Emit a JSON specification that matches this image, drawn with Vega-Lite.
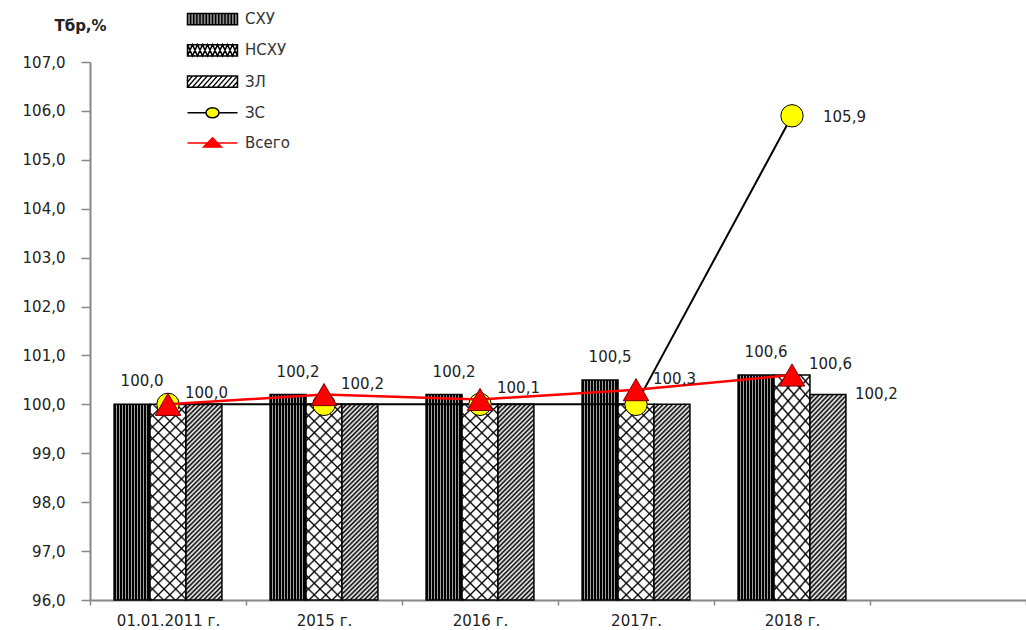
{
  "$schema": "https://vega.github.io/schema/vega-lite/v6.json",
  "width": 936,
  "height": 538,
  "autosize": {"type": "none"},
  "padding": {"left": 90, "top": 62, "right": 0, "bottom": 30},
  "background": "#ffffff",
  "config": {
    "locale": {"number": {"decimal": ",", "thousands": " ", "grouping": [3], "currency": ["", ""]}},
    "view": {"stroke": null},
    "font": "DejaVu Sans",
    "legend": {
      "orient": "none",
      "legendX": 109,
      "legendY": -56.5,
      "padding": 0,
      "symbolSize": 625,
      "labelOffset": 19,
      "rowPadding": 8.25,
      "labelFont": "DejaVu Sans",
      "labelFontSize": 15,
      "labelColor": "#333333"
    }
  },
  "data": {
    "values": [
      {"year": "01.01.2011 г.", "series": "СХУ", "value": 100.0},
      {"year": "2015 г.", "series": "СХУ", "value": 100.2},
      {"year": "2016 г.", "series": "СХУ", "value": 100.2},
      {"year": "2017г.", "series": "СХУ", "value": 100.5},
      {"year": "2018 г.", "series": "СХУ", "value": 100.6},
      {"year": "01.01.2011 г.", "series": "НСХУ", "value": 100.0},
      {"year": "2015 г.", "series": "НСХУ", "value": 100.0},
      {"year": "2016 г.", "series": "НСХУ", "value": 100.0},
      {"year": "2017г.", "series": "НСХУ", "value": 100.0},
      {"year": "2018 г.", "series": "НСХУ", "value": 100.6},
      {"year": "01.01.2011 г.", "series": "ЗЛ", "value": 100.0},
      {"year": "2015 г.", "series": "ЗЛ", "value": 100.0},
      {"year": "2016 г.", "series": "ЗЛ", "value": 100.0},
      {"year": "2017г.", "series": "ЗЛ", "value": 100.0},
      {"year": "2018 г.", "series": "ЗЛ", "value": 100.2},
      {"year": "01.01.2011 г.", "series": "ЗС", "value": 100.0},
      {"year": "2015 г.", "series": "ЗС", "value": 100.0},
      {"year": "2016 г.", "series": "ЗС", "value": 100.0},
      {"year": "2017г.", "series": "ЗС", "value": 100.0},
      {"year": "2018 г.", "series": "ЗС", "value": 105.9},
      {"year": "01.01.2011 г.", "series": "Всего", "value": 100.0},
      {"year": "2015 г.", "series": "Всего", "value": 100.2},
      {"year": "2016 г.", "series": "Всего", "value": 100.1},
      {"year": "2017г.", "series": "Всего", "value": 100.3},
      {"year": "2018 г.", "series": "Всего", "value": 100.6}
    ]
  },
  "encoding": {
    "x": {
      "field": "year",
      "type": "nominal",
      "sort": null,
      "scale": {
        "domain": ["01.01.2011 г.", "2015 г.", "2016 г.", "2017г.", "2018 г.", ""],
        "paddingInner": 0,
        "paddingOuter": 0
      },
      "axis": {
        "title": null,
        "labelAngle": 0,
        "tickBand": "extent",
        "domainColor": "#888888",
        "domainWidth": 2,
        "tickColor": "#888888",
        "tickWidth": 1.5,
        "tickSize": 5,
        "labelPadding": 8,
        "labelFont": "DejaVu Sans",
        "labelFontSize": 15,
        "labelColor": "#222222"
      }
    },
    "y": {
      "field": "value",
      "type": "quantitative",
      "scale": {"domain": [96, 107], "nice": false, "zero": false},
      "axis": {
        "title": "Тбр,%",
        "titleAngle": 0,
        "titleX": -10,
        "titleY": -37,
        "titleAlign": "center",
        "titleBaseline": "middle",
        "titleFont": "DejaVu Sans",
        "titleFontSize": 15,
        "titleFontWeight": "bold",
        "titleColor": "#222222",
        "values": [96, 97, 98, 99, 100, 101, 102, 103, 104, 105, 106, 107],
        "format": ".1f",
        "grid": false,
        "domainColor": "#888888",
        "domainWidth": 2,
        "tickColor": "#888888",
        "tickWidth": 1.5,
        "tickSize": 9,
        "labelPadding": 16,
        "labelFont": "DejaVu Sans",
        "labelFontSize": 15,
        "labelColor": "#222222"
      }
    }
  },
  "layer": [
    {
      "transform": [{"filter": "datum.series === 'СХУ'"}],
      "mark": {
        "type": "bar", "stroke": "#000000", "strokeWidth": 1.5,
        "fill": {
          "gradient": "linear", "x1": 0, "y1": 0, "x2": 1, "y2": 0,
          "stops": [
            {"offset": 0, "color": "#000"}, {"offset": 0.0556, "color": "#000"}, {"offset": 0.0556, "color": "#a0a0a0"}, {"offset": 0.0833, "color": "#a0a0a0"},
            {"offset": 0.0833, "color": "#000"}, {"offset": 0.1389, "color": "#000"}, {"offset": 0.1389, "color": "#a0a0a0"}, {"offset": 0.1667, "color": "#a0a0a0"},
            {"offset": 0.1667, "color": "#000"}, {"offset": 0.2222, "color": "#000"}, {"offset": 0.2222, "color": "#a0a0a0"}, {"offset": 0.25, "color": "#a0a0a0"},
            {"offset": 0.25, "color": "#000"}, {"offset": 0.3056, "color": "#000"}, {"offset": 0.3056, "color": "#a0a0a0"}, {"offset": 0.3333, "color": "#a0a0a0"},
            {"offset": 0.3333, "color": "#000"}, {"offset": 0.3889, "color": "#000"}, {"offset": 0.3889, "color": "#a0a0a0"}, {"offset": 0.4167, "color": "#a0a0a0"},
            {"offset": 0.4167, "color": "#000"}, {"offset": 0.4722, "color": "#000"}, {"offset": 0.4722, "color": "#a0a0a0"}, {"offset": 0.5, "color": "#a0a0a0"},
            {"offset": 0.5, "color": "#000"}, {"offset": 0.5556, "color": "#000"}, {"offset": 0.5556, "color": "#a0a0a0"}, {"offset": 0.5833, "color": "#a0a0a0"},
            {"offset": 0.5833, "color": "#000"}, {"offset": 0.6389, "color": "#000"}, {"offset": 0.6389, "color": "#a0a0a0"}, {"offset": 0.6667, "color": "#a0a0a0"},
            {"offset": 0.6667, "color": "#000"}, {"offset": 0.7222, "color": "#000"}, {"offset": 0.7222, "color": "#a0a0a0"}, {"offset": 0.75, "color": "#a0a0a0"},
            {"offset": 0.75, "color": "#000"}, {"offset": 0.8056, "color": "#000"}, {"offset": 0.8056, "color": "#a0a0a0"}, {"offset": 0.8333, "color": "#a0a0a0"},
            {"offset": 0.8333, "color": "#000"}, {"offset": 0.8889, "color": "#000"}, {"offset": 0.8889, "color": "#a0a0a0"}, {"offset": 0.9167, "color": "#a0a0a0"},
            {"offset": 0.9167, "color": "#000"}, {"offset": 1, "color": "#000"}
          ]
        }
      },
      "encoding": {
        "xOffset": {
          "field": "series",
          "type": "nominal",
          "scale": {"domain": ["СХУ", "НСХУ", "ЗЛ"], "paddingInner": 0, "paddingOuter": 0.67}
        },
        "y2": {"datum": 96}
      }
    },
    {
      "transform": [{"filter": "datum.series === 'НСХУ'"}],
      "mark": {
        "type": "bar", "stroke": "#000000", "strokeWidth": 1.5,
        "fill": {
          "gradient": "linear", "x1": 0, "y1": 0, "x2": 0.21, "y2": 1.145,
          "stops": [
            {"offset": 0, "color": "#fff"}, {"offset": 0.008, "color": "#000"}, {"offset": 0.016, "color": "#fff"},
            {"offset": 0.05, "color": "#fff"}, {"offset": 0.058, "color": "#000"}, {"offset": 0.066, "color": "#fff"},
            {"offset": 0.1, "color": "#fff"}, {"offset": 0.108, "color": "#000"}, {"offset": 0.116, "color": "#fff"},
            {"offset": 0.15, "color": "#fff"}, {"offset": 0.158, "color": "#000"}, {"offset": 0.166, "color": "#fff"},
            {"offset": 0.2, "color": "#fff"}, {"offset": 0.208, "color": "#000"}, {"offset": 0.216, "color": "#fff"},
            {"offset": 0.25, "color": "#fff"}, {"offset": 0.258, "color": "#000"}, {"offset": 0.266, "color": "#fff"},
            {"offset": 0.3, "color": "#fff"}, {"offset": 0.308, "color": "#000"}, {"offset": 0.316, "color": "#fff"},
            {"offset": 0.35, "color": "#fff"}, {"offset": 0.358, "color": "#000"}, {"offset": 0.366, "color": "#fff"},
            {"offset": 0.4, "color": "#fff"}, {"offset": 0.408, "color": "#000"}, {"offset": 0.416, "color": "#fff"},
            {"offset": 0.45, "color": "#fff"}, {"offset": 0.458, "color": "#000"}, {"offset": 0.466, "color": "#fff"},
            {"offset": 0.5, "color": "#fff"}, {"offset": 0.508, "color": "#000"}, {"offset": 0.516, "color": "#fff"},
            {"offset": 0.55, "color": "#fff"}, {"offset": 0.558, "color": "#000"}, {"offset": 0.566, "color": "#fff"},
            {"offset": 0.6, "color": "#fff"}, {"offset": 0.608, "color": "#000"}, {"offset": 0.616, "color": "#fff"},
            {"offset": 0.65, "color": "#fff"}, {"offset": 0.658, "color": "#000"}, {"offset": 0.666, "color": "#fff"},
            {"offset": 0.7, "color": "#fff"}, {"offset": 0.708, "color": "#000"}, {"offset": 0.716, "color": "#fff"},
            {"offset": 0.75, "color": "#fff"}, {"offset": 0.758, "color": "#000"}, {"offset": 0.766, "color": "#fff"},
            {"offset": 0.8, "color": "#fff"}, {"offset": 0.808, "color": "#000"}, {"offset": 0.816, "color": "#fff"},
            {"offset": 0.85, "color": "#fff"}, {"offset": 0.858, "color": "#000"}, {"offset": 0.866, "color": "#fff"},
            {"offset": 0.9, "color": "#fff"}, {"offset": 0.908, "color": "#000"}, {"offset": 0.916, "color": "#fff"},
            {"offset": 0.95, "color": "#fff"}, {"offset": 0.958, "color": "#000"}, {"offset": 0.966, "color": "#fff"},
            {"offset": 1, "color": "#fff"}
          ]
        }
      },
      "encoding": {
        "xOffset": {"field": "series", "type": "nominal"},
        "y2": {"datum": 96}
      }
    },
    {
      "transform": [{"filter": "datum.series === 'НСХУ'"}],
      "mark": {
        "type": "bar",
        "strokeWidth": 0,
        "fill": {
          "gradient": "linear", "x1": 0, "y1": 1, "x2": 0.21, "y2": -0.145,
          "stops": [
            {"offset": 0, "color": "rgba(0,0,0,0)"}, {"offset": 0.008, "color": "#000"}, {"offset": 0.016, "color": "rgba(0,0,0,0)"},
            {"offset": 0.05, "color": "rgba(0,0,0,0)"}, {"offset": 0.058, "color": "#000"}, {"offset": 0.066, "color": "rgba(0,0,0,0)"},
            {"offset": 0.1, "color": "rgba(0,0,0,0)"}, {"offset": 0.108, "color": "#000"}, {"offset": 0.116, "color": "rgba(0,0,0,0)"},
            {"offset": 0.15, "color": "rgba(0,0,0,0)"}, {"offset": 0.158, "color": "#000"}, {"offset": 0.166, "color": "rgba(0,0,0,0)"},
            {"offset": 0.2, "color": "rgba(0,0,0,0)"}, {"offset": 0.208, "color": "#000"}, {"offset": 0.216, "color": "rgba(0,0,0,0)"},
            {"offset": 0.25, "color": "rgba(0,0,0,0)"}, {"offset": 0.258, "color": "#000"}, {"offset": 0.266, "color": "rgba(0,0,0,0)"},
            {"offset": 0.3, "color": "rgba(0,0,0,0)"}, {"offset": 0.308, "color": "#000"}, {"offset": 0.316, "color": "rgba(0,0,0,0)"},
            {"offset": 0.35, "color": "rgba(0,0,0,0)"}, {"offset": 0.358, "color": "#000"}, {"offset": 0.366, "color": "rgba(0,0,0,0)"},
            {"offset": 0.4, "color": "rgba(0,0,0,0)"}, {"offset": 0.408, "color": "#000"}, {"offset": 0.416, "color": "rgba(0,0,0,0)"},
            {"offset": 0.45, "color": "rgba(0,0,0,0)"}, {"offset": 0.458, "color": "#000"}, {"offset": 0.466, "color": "rgba(0,0,0,0)"},
            {"offset": 0.5, "color": "rgba(0,0,0,0)"}, {"offset": 0.508, "color": "#000"}, {"offset": 0.516, "color": "rgba(0,0,0,0)"},
            {"offset": 0.55, "color": "rgba(0,0,0,0)"}, {"offset": 0.558, "color": "#000"}, {"offset": 0.566, "color": "rgba(0,0,0,0)"},
            {"offset": 0.6, "color": "rgba(0,0,0,0)"}, {"offset": 0.608, "color": "#000"}, {"offset": 0.616, "color": "rgba(0,0,0,0)"},
            {"offset": 0.65, "color": "rgba(0,0,0,0)"}, {"offset": 0.658, "color": "#000"}, {"offset": 0.666, "color": "rgba(0,0,0,0)"},
            {"offset": 0.7, "color": "rgba(0,0,0,0)"}, {"offset": 0.708, "color": "#000"}, {"offset": 0.716, "color": "rgba(0,0,0,0)"},
            {"offset": 0.75, "color": "rgba(0,0,0,0)"}, {"offset": 0.758, "color": "#000"}, {"offset": 0.766, "color": "rgba(0,0,0,0)"},
            {"offset": 0.8, "color": "rgba(0,0,0,0)"}, {"offset": 0.808, "color": "#000"}, {"offset": 0.816, "color": "rgba(0,0,0,0)"},
            {"offset": 0.85, "color": "rgba(0,0,0,0)"}, {"offset": 0.858, "color": "#000"}, {"offset": 0.866, "color": "rgba(0,0,0,0)"},
            {"offset": 0.9, "color": "rgba(0,0,0,0)"}, {"offset": 0.908, "color": "#000"}, {"offset": 0.916, "color": "rgba(0,0,0,0)"},
            {"offset": 0.95, "color": "rgba(0,0,0,0)"}, {"offset": 0.958, "color": "#000"}, {"offset": 0.966, "color": "rgba(0,0,0,0)"},
            {"offset": 1, "color": "rgba(0,0,0,0)"}
          ]
        }
      },
      "encoding": {
        "xOffset": {"field": "series", "type": "nominal"},
        "y2": {"datum": 96}
      }
    },
    {
      "transform": [{"filter": "datum.series === 'ЗЛ'"}],
      "mark": {
        "type": "bar", "stroke": "#000000", "strokeWidth": 1.5,
        "fill": {
          "gradient": "linear", "x1": 0, "y1": 0, "x2": 0.21, "y2": 1.145,
          "stops": [
            {"offset": 0, "color": "#000"}, {"offset": 0.01, "color": "#fff"}, {"offset": 0.02, "color": "#000"}, {"offset": 0.03, "color": "#fff"}, {"offset": 0.04, "color": "#000"},
            {"offset": 0.05, "color": "#fff"}, {"offset": 0.06, "color": "#000"}, {"offset": 0.07, "color": "#fff"}, {"offset": 0.08, "color": "#000"}, {"offset": 0.09, "color": "#fff"},
            {"offset": 0.1, "color": "#000"}, {"offset": 0.11, "color": "#fff"}, {"offset": 0.12, "color": "#000"}, {"offset": 0.13, "color": "#fff"}, {"offset": 0.14, "color": "#000"},
            {"offset": 0.15, "color": "#fff"}, {"offset": 0.16, "color": "#000"}, {"offset": 0.17, "color": "#fff"}, {"offset": 0.18, "color": "#000"}, {"offset": 0.19, "color": "#fff"},
            {"offset": 0.2, "color": "#000"}, {"offset": 0.21, "color": "#fff"}, {"offset": 0.22, "color": "#000"}, {"offset": 0.23, "color": "#fff"}, {"offset": 0.24, "color": "#000"},
            {"offset": 0.25, "color": "#fff"}, {"offset": 0.26, "color": "#000"}, {"offset": 0.27, "color": "#fff"}, {"offset": 0.28, "color": "#000"}, {"offset": 0.29, "color": "#fff"},
            {"offset": 0.3, "color": "#000"}, {"offset": 0.31, "color": "#fff"}, {"offset": 0.32, "color": "#000"}, {"offset": 0.33, "color": "#fff"}, {"offset": 0.34, "color": "#000"},
            {"offset": 0.35, "color": "#fff"}, {"offset": 0.36, "color": "#000"}, {"offset": 0.37, "color": "#fff"}, {"offset": 0.38, "color": "#000"}, {"offset": 0.39, "color": "#fff"},
            {"offset": 0.4, "color": "#000"}, {"offset": 0.41, "color": "#fff"}, {"offset": 0.42, "color": "#000"}, {"offset": 0.43, "color": "#fff"}, {"offset": 0.44, "color": "#000"},
            {"offset": 0.45, "color": "#fff"}, {"offset": 0.46, "color": "#000"}, {"offset": 0.47, "color": "#fff"}, {"offset": 0.48, "color": "#000"}, {"offset": 0.49, "color": "#fff"},
            {"offset": 0.5, "color": "#000"}, {"offset": 0.51, "color": "#fff"}, {"offset": 0.52, "color": "#000"}, {"offset": 0.53, "color": "#fff"}, {"offset": 0.54, "color": "#000"},
            {"offset": 0.55, "color": "#fff"}, {"offset": 0.56, "color": "#000"}, {"offset": 0.57, "color": "#fff"}, {"offset": 0.58, "color": "#000"}, {"offset": 0.59, "color": "#fff"},
            {"offset": 0.6, "color": "#000"}, {"offset": 0.61, "color": "#fff"}, {"offset": 0.62, "color": "#000"}, {"offset": 0.63, "color": "#fff"}, {"offset": 0.64, "color": "#000"},
            {"offset": 0.65, "color": "#fff"}, {"offset": 0.66, "color": "#000"}, {"offset": 0.67, "color": "#fff"}, {"offset": 0.68, "color": "#000"}, {"offset": 0.69, "color": "#fff"},
            {"offset": 0.7, "color": "#000"}, {"offset": 0.71, "color": "#fff"}, {"offset": 0.72, "color": "#000"}, {"offset": 0.73, "color": "#fff"}, {"offset": 0.74, "color": "#000"},
            {"offset": 0.75, "color": "#fff"}, {"offset": 0.76, "color": "#000"}, {"offset": 0.77, "color": "#fff"}, {"offset": 0.78, "color": "#000"}, {"offset": 0.79, "color": "#fff"},
            {"offset": 0.8, "color": "#000"}, {"offset": 0.81, "color": "#fff"}, {"offset": 0.82, "color": "#000"}, {"offset": 0.83, "color": "#fff"}, {"offset": 0.84, "color": "#000"},
            {"offset": 0.85, "color": "#fff"}, {"offset": 0.86, "color": "#000"}, {"offset": 0.87, "color": "#fff"}, {"offset": 0.88, "color": "#000"}, {"offset": 0.89, "color": "#fff"},
            {"offset": 0.9, "color": "#000"}, {"offset": 0.91, "color": "#fff"}, {"offset": 0.92, "color": "#000"}, {"offset": 0.93, "color": "#fff"}, {"offset": 0.94, "color": "#000"},
            {"offset": 0.95, "color": "#fff"}, {"offset": 0.96, "color": "#000"}, {"offset": 0.97, "color": "#fff"}, {"offset": 0.98, "color": "#000"}, {"offset": 0.99, "color": "#fff"},
            {"offset": 1, "color": "#000"}
          ]
        }
      },
      "encoding": {
        "xOffset": {"field": "series", "type": "nominal"},
        "y2": {"datum": 96}
      }
    },
    {
      "description": "Legend carrier: draws no points, only defines the shared series legend.",
      "transform": [{"filter": "false"}],
      "mark": {"type": "point", "filled": true, "opacity": 1, "strokeWidth": 1.5},
      "encoding": {
        "fill": {
          "field": "series",
          "type": "nominal",
          "scale": {
            "domain": ["СХУ", "НСХУ", "ЗЛ", "ЗС", "Всего"],
            "range": ["#8c8c8c", "#ffffff", "#ffffff", "#ffff00", "#ff0000"]
          },
          "legend": {"title": null}
        },
        "stroke": {
          "field": "series",
          "type": "nominal",
          "scale": {
            "domain": ["СХУ", "НСХУ", "ЗЛ", "ЗС", "Всего"],
            "range": ["#000000", "#000000", "#000000", "#000000", "#ff0000"]
          },
          "legend": {"title": null}
        },
        "shape": {
          "field": "series",
          "type": "nominal",
          "scale": {
            "domain": ["СХУ", "НСХУ", "ЗЛ", "ЗС", "Всего"],
            "range": [
              "M-2,-0.45H2V0.45H-2ZM-1.75,-0.45V0.45M-1.5,-0.45V0.45M-1.25,-0.45V0.45M-1,-0.45V0.45M-0.75,-0.45V0.45M-0.5,-0.45V0.45M-0.25,-0.45V0.45M0,-0.45V0.45M0.25,-0.45V0.45M0.5,-0.45V0.45M0.75,-0.45V0.45M1,-0.45V0.45M1.25,-0.45V0.45M1.5,-0.45V0.45M1.75,-0.45V0.45",
              "M-2,-0.45H2V0.45H-2ZM-2,0.45L-1.6,-0.45L-1.2,0.45L-0.8,-0.45L-0.4,0.45L0,-0.45L0.4,0.45L0.8,-0.45L1.2,0.45L1.6,-0.45L2,0.45M-2,-0.45L-1.6,0.45L-1.2,-0.45L-0.8,0.45L-0.4,-0.45L0,0.45L0.4,-0.45L0.8,0.45L1.2,-0.45L1.6,0.45L2,-0.45",
              "M-2,-0.45H2V0.45H-2ZM-2,0.05L-1.6,-0.45M-2,0.45L-1.2,-0.45M-1.6,0.45L-0.8,-0.45M-1.2,0.45L-0.4,-0.45M-0.8,0.45L0,-0.45M-0.4,0.45L0.4,-0.45M0,0.45L0.8,-0.45M0.4,0.45L1.2,-0.45M0.8,0.45L1.6,-0.45M1.2,0.45L2,-0.45M1.6,0.45L2,0",
              "M-2,0H-0.52M0.52,0H2M0.52,0A0.52,0.4 0 1,1 -0.52,0A0.52,0.4 0 1,1 0.52,0Z",
              "M-2,0H2M0,-0.42L0.72,0.32H-0.72Z"
            ]
          },
          "legend": {"title": null}
        }
      }
    },
    {
      "transform": [{"filter": "datum.series === 'ЗС'"}],
      "mark": {"type": "line", "color": "#000000", "strokeWidth": 2}
    },
    {
      "transform": [{"filter": "datum.series === 'ЗС'"}],
      "mark": {"type": "point", "shape": "circle", "filled": true, "size": 500, "stroke": "#000000", "strokeWidth": 1, "opacity": 1},
      "encoding": {"fill": {"field": "series", "type": "nominal", "legend": null}}
    },
    {
      "transform": [{"filter": "datum.series === 'Всего'"}],
      "mark": {"type": "line", "color": "#ff0000", "strokeWidth": 2.5}
    },
    {
      "transform": [{"filter": "datum.series === 'Всего'"}],
      "mark": {"type": "point", "shape": "triangle-up", "filled": true, "size": 650, "stroke": "#7a0000", "strokeWidth": 1, "opacity": 1},
      "encoding": {"fill": {"field": "series", "type": "nominal", "legend": null}}
    },
    {
      "transform": [{"filter": "datum.series === 'СХУ'"}],
      "mark": {"type": "text", "dx": 10, "dy": -23, "baseline": "middle", "font": "DejaVu Sans", "fontSize": 15, "fill": "#222222"},
      "encoding": {
        "xOffset": {"field": "series", "type": "nominal"},
        "text": {"field": "value", "type": "quantitative", "format": ".1f"}
      }
    },
    {
      "transform": [{"filter": "datum.series === 'Всего'"}],
      "mark": {"type": "text", "align": "left", "dx": 17, "dy": -11, "baseline": "middle", "font": "DejaVu Sans", "fontSize": 15, "fill": "#222222"},
      "encoding": {
        "text": {"field": "value", "type": "quantitative", "format": ".1f"}
      }
    },
    {
      "transform": [{"filter": "datum.series === 'ЗЛ' && datum.year === '2018 г.'"}],
      "mark": {"type": "text", "align": "left", "dx": 27, "dy": -1, "baseline": "middle", "font": "DejaVu Sans", "fontSize": 15, "fill": "#222222"},
      "encoding": {
        "xOffset": {"field": "series", "type": "nominal"},
        "text": {"field": "value", "type": "quantitative", "format": ".1f"}
      }
    },
    {
      "transform": [{"filter": "datum.series === 'ЗС' && datum.year === '2018 г.'"}],
      "mark": {"type": "text", "align": "left", "dx": 31, "dy": 1, "baseline": "middle", "font": "DejaVu Sans", "fontSize": 15, "fill": "#222222"},
      "encoding": {
        "text": {"field": "value", "type": "quantitative", "format": ".1f"}
      }
    }
  ]
}
